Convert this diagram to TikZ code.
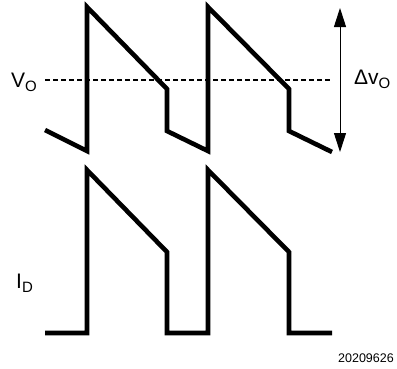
\documentclass[tikz,border=0pt]{standalone}
\usepackage{fontspec}
\setmainfont{Liberation Sans}
\usetikzlibrary{arrows.meta}
\begin{document}
\begin{tikzpicture}[x=1pt,y=-1pt]
% width of the wave lines
\def\lw{4.6pt}
% lowered subscript
\def\lowsub#1{\raisebox{-4pt}{\fontsize{15}{15}\selectfont #1}}
% style definitions
\tikzstyle{wave} = [draw, line width=\lw, line join=miter];
\tikzstyle{lbl} = [inner sep=0pt, anchor=base west,
	font=\fontsize{21}{21}\selectfont];
\useasboundingbox (0,0) rectangle (397,368);

% output voltage
\draw[dash pattern=on 5pt off 3pt, line width=1.6pt] (45,80) -- (332,80);
\draw[wave] (45,130) -- (87,151) -- (87,7) -- (167,89) -- (167,131)
	-- (208,151) -- (208,7) -- (289,89) -- (289,131) -- (332,152);

% diode current
\draw[wave] (45,333) -- (87,333) -- (87,170) -- (167,252) -- (167,333)
	-- (208,333) -- (208,170) -- (289,252) -- (289,333) -- (332,333);

% ripple arrow
\coordinate (dvtop) at (340,8);
\coordinate (dvbot) at (340,152);
\draw[line width=1pt, {Triangle[length=19pt,width=12pt]}-{Triangle[length=19pt,width=12pt]}]
	(dvtop) -- (dvbot);

% labels
\node[lbl] (vo) at (11,87) {V\lowsub{O}};
\node[lbl] (dvo) at (354,84) {Δv\lowsub{O}};
\node[lbl] (id) at (16,288) {I\lowsub{D}};
\node[inner sep=0pt, anchor=base east, font=\fontsize{12.5}{12.5}\selectfont]
	(fig) at (394,362) {20209626};
\end{tikzpicture}
\end{document}
